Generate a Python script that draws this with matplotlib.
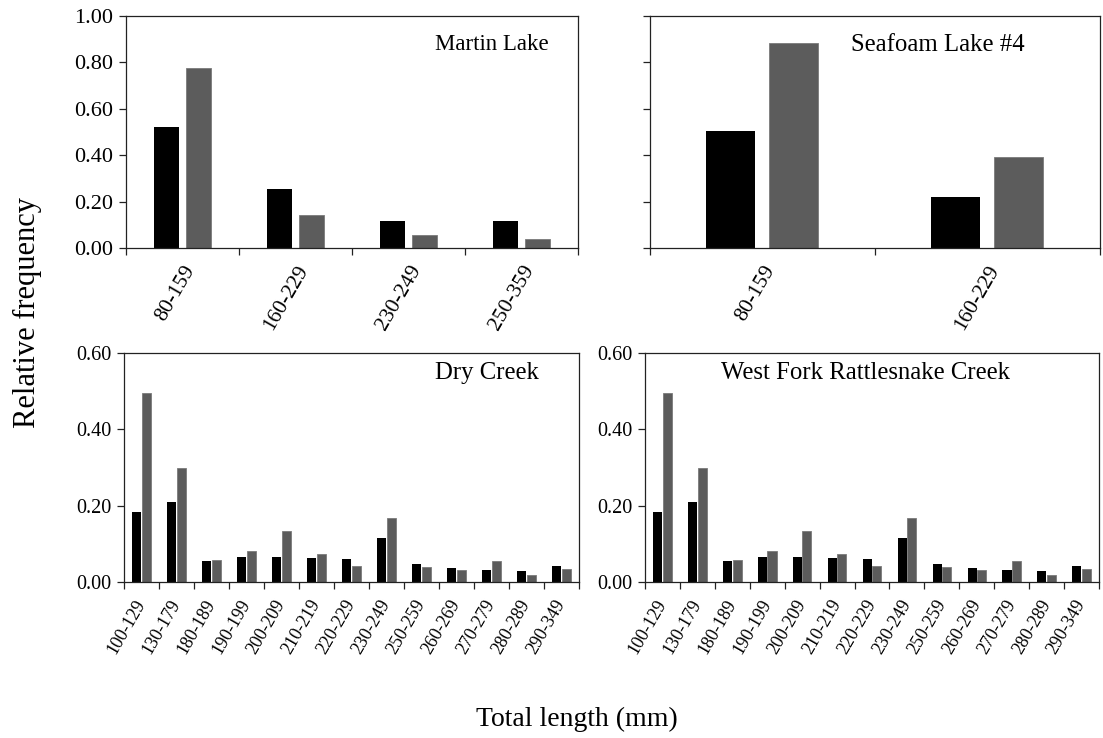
import numpy as np
import matplotlib
matplotlib.use("Agg")
import matplotlib.pyplot as plt

plt.rcParams['font.family'] = ['Liberation Serif', 'DejaVu Serif']

# top panels: length classes and relative frequencies (black / grey series)
martin_bins = ["80-159", "160-229", "230-249", "250-359"]
martin_black = [0.523, 0.252, 0.116, 0.116]
martin_grey = [0.775, 0.142, 0.057, 0.040]

seafoam_bins = ["80-159", "160-229"]
seafoam_black = [0.503, 0.221]
seafoam_grey = [0.883, 0.390]

# bottom panels: stream samples
creek_bins = ["100-129", "130-179", "180-189", "190-199", "200-209", "210-219",
              "220-229", "230-249", "250-259", "260-269", "270-279", "280-289",
              "290-349"]
dry_black = [0.183, 0.210, 0.054, 0.066, 0.066, 0.062, 0.059, 0.114, 0.047,
             0.037, 0.032, 0.029, 0.041]
dry_grey = [0.495, 0.299, 0.058, 0.082, 0.134, 0.074, 0.043, 0.168, 0.038,
            0.032, 0.056, 0.019, 0.035]
wf_black = [0.183, 0.210, 0.054, 0.066, 0.066, 0.062, 0.059, 0.114, 0.047,
            0.037, 0.032, 0.029, 0.041]
wf_grey = [0.495, 0.299, 0.058, 0.082, 0.134, 0.074, 0.043, 0.168, 0.038,
           0.032, 0.056, 0.019, 0.035]

BLACK = "#000000"
GREY = "#5c5c5c"

fig = plt.figure(figsize=(11.03, 7.38), dpi=100)


def panel(rect, bins, black, grey, ymax, yticks, title, tx, ty, ha,
          width, off, tick_fs, lab_fs, lab_va, lab_pad, title_fs,
          show_ylabels=True):
    ax = fig.add_axes(rect)
    x = np.arange(len(bins))
    ax.bar(x - off, black, width, color=BLACK, edgecolor="none", zorder=2)
    ax.bar(x + off, grey, width, color=GREY, edgecolor="#7a7a7a",
           linewidth=0.6, zorder=2)
    ax.set_xlim(-0.5, len(bins) - 0.5)
    ax.set_ylim(0, ymax)
    ax.set_yticks(yticks)
    if show_ylabels:
        ax.set_yticklabels(["%.2f" % v for v in yticks], fontsize=tick_fs)
    else:
        ax.set_yticklabels([])
    ax.set_xticks(x)
    ax.set_xticklabels(bins, rotation=60, ha="right", va=lab_va,
                       rotation_mode="anchor", fontsize=lab_fs)
    ax.set_xticks(np.arange(len(bins) + 1) - 0.5, minor=True)
    ax.tick_params(axis="x", which="major", length=0, pad=lab_pad)
    ax.tick_params(axis="x", which="minor", length=5, width=0.9,
                   direction="out", color="#222222")
    ax.tick_params(axis="y", length=5, width=0.9, direction="out",
                   color="#222222", pad=4)
    for s in ax.spines.values():
        s.set_linewidth(0.9)
        s.set_color("#222222")
    ax.text(tx, ty, title, transform=ax.transAxes, ha=ha, va="center",
            fontsize=title_fs)
    return ax


panel([0.1142, 0.664, 0.4098, 0.3144], martin_bins, martin_black, martin_grey,
      1.0, [0, 0.2, 0.4, 0.6, 0.8, 1.0], "Martin Lake", 0.934, 0.875, "right",
      0.22, 0.14, 16, 15.5, "top", 10, 16.5)
panel([0.589, 0.664, 0.408, 0.3144], seafoam_bins, seafoam_black, seafoam_grey,
      1.0, [0, 0.2, 0.4, 0.6, 0.8, 1.0], "Seafoam Lake #4", 0.64, 0.875,
      "center", 0.22, 0.14, 16, 15.5, "top", 10, 17.8, show_ylabels=False)
panel([0.1124, 0.2114, 0.4125, 0.3103], creek_bins, dry_black, dry_grey,
      0.6, [0, 0.2, 0.4, 0.6], "Dry Creek", 0.912, 0.913, "right",
      0.26, 0.135, 14.5, 13, "center", 13.5, 17.8)
panel([0.5848, 0.2114, 0.4116, 0.3103], creek_bins, wf_black, wf_grey,
      0.6, [0, 0.2, 0.4, 0.6], "West Fork Rattlesnake Creek", 0.485, 0.913,
      "center", 0.26, 0.135, 14.5, 13, "center", 13.5, 17.8)

fig.text(0.025, 0.576, "Relative frequency", rotation=90, ha="center",
         va="center", fontsize=22)
fig.text(0.523, 0.025, "Total length (mm)", ha="center", va="center",
         fontsize=20)

fig.savefig("out.png", dpi=100)
